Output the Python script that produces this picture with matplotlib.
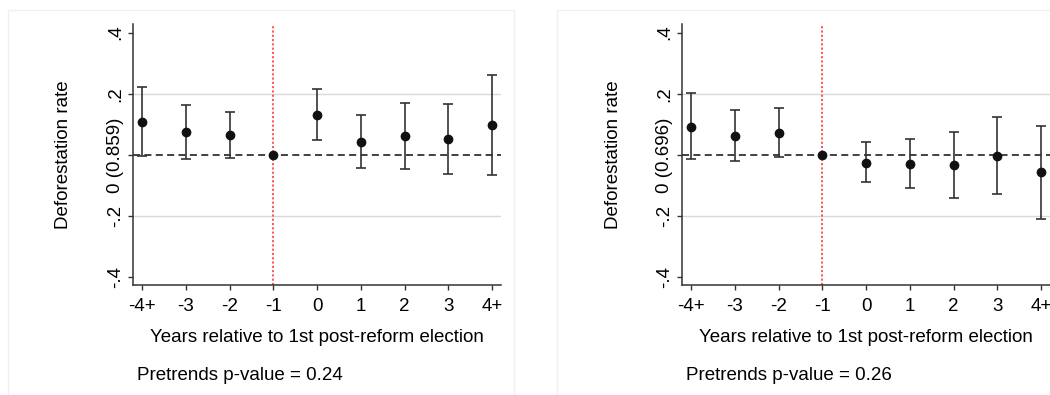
import numpy as np
import matplotlib
matplotlib.use("Agg")
import matplotlib.pyplot as plt
from matplotlib.patches import Rectangle

plt.rcParams['font.family'] = ['Liberation Sans', 'DejaVu Sans']

labels = ['-4+', '-3', '-2', '-1', '0', '1', '2', '3', '4+']

# left panel (mean 0.859)
coef_a = [0.109, 0.074, 0.065, 0.0, 0.132, 0.043, 0.062, 0.052, 0.098]
lo_a = [-0.003, -0.012, -0.010, 0.0, 0.048, -0.041, -0.045, -0.062, -0.064]
hi_a = [0.221, 0.162, 0.140, 0.0, 0.215, 0.129, 0.170, 0.166, 0.261]

# right panel (mean 0.696)
coef_b = [0.093, 0.063, 0.073, 0.0, -0.025, -0.028, -0.033, -0.002, -0.057]
lo_b = [-0.014, -0.021, -0.008, 0.0, -0.090, -0.109, -0.140, -0.128, -0.208]
hi_b = [0.201, 0.148, 0.153, 0.0, 0.042, 0.053, 0.074, 0.125, 0.096]

means = ['0.859', '0.696']
pvals = ['0.24', '0.26']

W, H = 1050, 395
fig = plt.figure(figsize=(W / 100, H / 100), dpi=100)

fs = 13.5
dark = '#333333'


def panel(x0, coef, lo, hi, mean, pval, box_x0, box_x1):
    # faint frame around each graph
    fig.patches.append(Rectangle((box_x0 / W, 0), (box_x1 - box_x0) / W, 1 - 10 / H,
                                 transform=fig.transFigure, fill=False,
                                 edgecolor='#f0f0f0', lw=1))
    ax = fig.add_axes([x0 / W, 1 - 285 / H, 367.5 / W, 261 / H])
    x = np.arange(len(labels))
    coef = np.array(coef)
    lo = np.array(lo)
    hi = np.array(hi)
    ax.axhline(0.2, color='#d9d9d9', lw=1, zorder=0)
    ax.axhline(-0.2, color='#d9d9d9', lw=1, zorder=0)
    ax.axhline(0, color='#333333', lw=1.3, ls=(0, (3.9, 2.4)), zorder=1)
    ax.axvline(3, color='#ff2a2a', lw=1.1, ls=(0, (1.4, 1.4)), zorder=1)
    ci = x != 3
    ax.errorbar(x[ci], coef[ci], yerr=[coef[ci] - lo[ci], hi[ci] - coef[ci]],
                fmt='none', ecolor=dark, elinewidth=1.2, capsize=3.5,
                capthick=1.2, zorder=2)
    ax.plot(x, coef, 'o', color='#111111', ms=6, zorder=3)
    ax.set_xlim(-0.206, 8.194)
    ax.set_ylim(-0.425, 0.428)
    ax.set_xticks(x)
    ax.set_xticklabels(labels, fontsize=fs)
    ax.set_yticks([-0.4, -0.2, 0, 0.2, 0.4])
    ax.set_yticklabels(['-.4', '-.2', '0 (%s)' % mean, '.2', '.4'],
                       fontsize=fs, rotation=90, va='center')
    for s in ['top', 'right']:
        ax.spines[s].set_visible(False)
    for s in ['left', 'bottom']:
        ax.spines[s].set_color(dark)
        ax.spines[s].set_linewidth(1.1)
    ax.tick_params(axis='both', length=3.5, width=1, color=dark)
    ax.tick_params(axis='y', pad=3)
    ax.tick_params(axis='x', pad=6)
    fig.text((x0 - 69) / W, 1 - 155 / H, 'Deforestation rate', rotation=90,
             ha='center', va='center', fontsize=fs)
    fig.text((x0 + 184) / W, 1 - 337 / H, 'Years relative to 1st post-reform election',
             ha='center', va='center', fontsize=fs)
    fig.text((x0 + 4) / W, 1 - 376 / H, 'Pretrends p-value = ' + pval,
             ha='left', va='center', fontsize=fs)
    return ax


panel(133, coef_a, lo_a, hi_a, means[0], pvals[0], 8, 514)
panel(682, coef_b, lo_b, hi_b, means[1], pvals[1], 557, 1060)

fig.savefig('out.png', dpi=100)
